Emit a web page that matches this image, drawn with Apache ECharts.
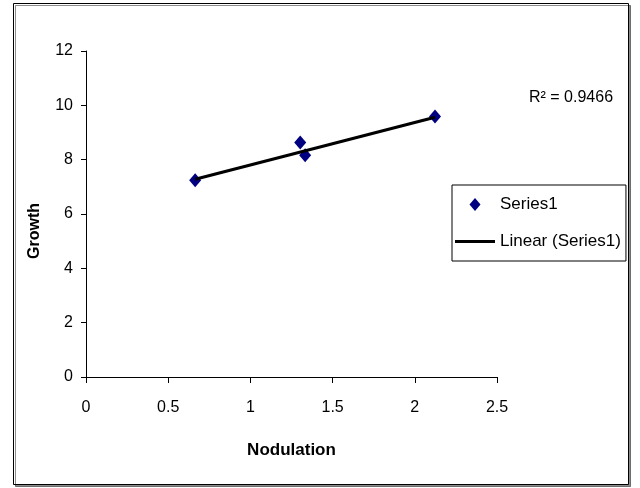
<!DOCTYPE html>
<html>
<head>
<meta charset="utf-8">
<script src="https://cdn.jsdelivr.net/npm/echarts@6/dist/echarts.min.js"></script>
<style>
  html, body { margin: 0; padding: 0; background: #fff; }
  #chart { width: 640px; height: 488px; }
</style>
</head>
<body>
<div id="chart"></div>
<script>
// data
var nodulation = [0.664, 1.303, 1.333, 2.123];
var growth = [7.24, 8.63, 8.16, 9.59];
// trendline end points (Linear (Series1))
var trendX = [0.664, 2.123];
var trendY = [7.28, 9.56];
var r2Text = 'R\u00b2 = 0.9466';
var xTicks = [0, 2.5, 0.5];   // min, max, interval
var yTicks = [0, 12, 2];

var font = '"Liberation Sans", Arial, sans-serif';

// legend icons: small diamond centred in a wide box, and a thick bar
var diamondIcon = 'path://M0,0 M40,14 M20,0.5 L25.5,7 L20,13.5 L14.5,7 Z';
var lineIcon = 'path://M0,0 M40,14 M0,5.5 L40,5.5 L40,8.5 L0,8.5 Z';

var chart = echarts.init(document.getElementById('chart'));
chart.setOption({
  backgroundColor: '#fff',
  animation: false,
  textStyle: { fontFamily: font },
  grid: { left: 86, top: 51, width: 411, height: 326 },
  xAxis: {
    type: 'value',
    min: xTicks[0], max: xTicks[1], interval: xTicks[2],
    name: 'Nodulation',
    nameLocation: 'middle',
    nameGap: 65,
    nameTextStyle: { fontSize: 17, fontWeight: 'bold', color: '#000', fontFamily: font },
    axisLine: { lineStyle: { color: '#000', width: 1 } },
    axisTick: { show: true, length: 6, lineStyle: { color: '#000' } },
    axisLabel: { fontSize: 16, color: '#000', margin: 23, fontFamily: font },
    splitLine: { show: false }
  },
  yAxis: {
    type: 'value',
    min: yTicks[0], max: yTicks[1], interval: yTicks[2],
    axisLine: { show: true, lineStyle: { color: '#000', width: 1 } },
    axisTick: { show: true, length: 5, lineStyle: { color: '#000' } },
    axisLabel: { fontSize: 16, color: '#000', margin: 13, fontFamily: font },
    splitLine: { show: false }
  },
  legend: {
    orient: 'vertical',
    left: 452,
    top: 185,
    padding: [11, 5, 11, 3],
    itemWidth: 40,
    itemHeight: 14,
    itemGap: 20,
    backgroundColor: '#fff',
    borderColor: '#000',
    borderWidth: 1,
    borderRadius: 0,
    textStyle: { fontSize: 17, color: '#000', fontFamily: font },
    data: [
      { name: 'Series1', icon: diamondIcon, itemStyle: { color: '#000080', opacity: 1 } },
      { name: 'Linear (Series1)', icon: lineIcon, itemStyle: { color: '#000' } }
    ]
  },
  graphic: [
    {
      type: 'rect',
      z: -10,
      shape: { x: 13.5, y: 3.5, width: 615, height: 481 },
      style: { fill: '#fff', stroke: '#000', lineWidth: 1,
        shadowColor: 'rgba(0,0,0,0.45)', shadowOffsetX: 2, shadowOffsetY: 2, shadowBlur: 0 }
    },
    {
      type: 'text',
      x: 35, y: 231,
      rotation: Math.PI / 2,
      style: { text: 'Growth', fill: '#000',
        font: 'bold 16px ' + font, align: 'center', verticalAlign: 'middle' }
    },
    {
      type: 'text',
      x: 529, y: 98,
      style: { text: r2Text, fill: '#000', font: '16px ' + font,
        align: 'left', verticalAlign: 'middle' }
    }
  ],
  series: [
    {
      name: 'Series1',
      type: 'scatter',
      symbol: 'diamond',
      symbolSize: [12, 14],
      itemStyle: { color: '#000080', opacity: 1 },
      data: nodulation.map(function (x, i) { return [x, growth[i]]; }),
      z: 3
    },
    {
      name: 'Linear (Series1)',
      type: 'line',
      symbol: 'none',
      lineStyle: { color: '#000', width: 3 },
      itemStyle: { color: '#000' },
      data: trendX.map(function (x, i) { return [x, trendY[i]]; }),
      z: 4
    }
  ]
});
</script>
</body>
</html>
